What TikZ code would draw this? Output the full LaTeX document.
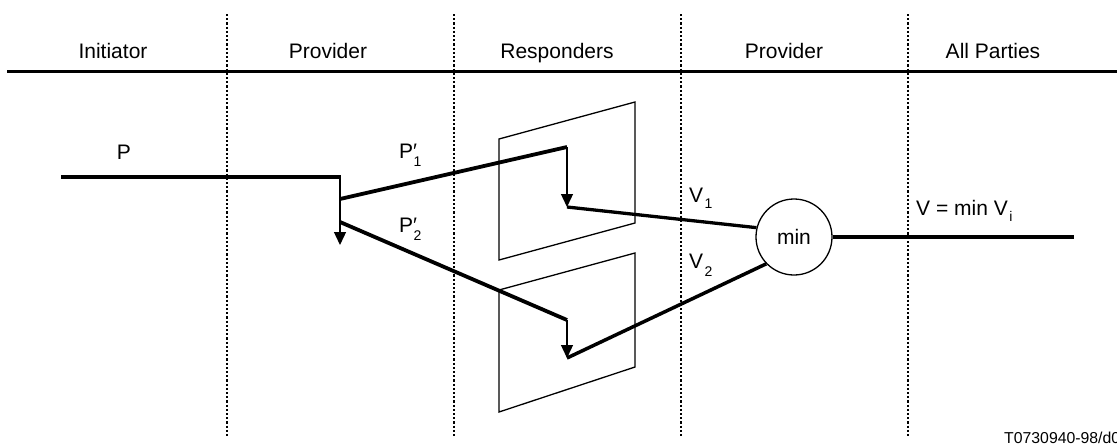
\documentclass[tikz,border=0pt]{standalone}
\usepackage{fontspec}
\setmainfont{Liberation Sans}
\usetikzlibrary{arrows.meta}

% primed and subscripted labels used on the flow lines
\newcommand{\primed}[1]{P\makebox[0pt][l]{′}\raisebox{-8.5pt}{\fontsize{14}{14}\selectfont\kern0.5pt #1}}
\newcommand{\vsub}[2]{V\kern1.5pt\raisebox{-#2}{\fontsize{14}{14}\selectfont #1}}

\begin{document}
\begin{tikzpicture}[x=1pt,y=-1pt,
  rule/.style={line width=3pt},
  lane/.style={line width=2.2pt, dash pattern=on 2.2pt off 2pt},
  flow/.style={line width=3.8pt},
  drop/.style={line width=1.3pt, -{Triangle[width=12pt,length=13pt]}},
  frame/.style={line width=1.3pt, line join=miter},
  head/.style={font=\fontsize{21}{21}\selectfont, anchor=base, inner sep=0pt},
  lbl/.style={font=\fontsize{21}{21}\selectfont, anchor=base west, inner sep=0pt},
  note/.style={font=\fontsize{15.8}{15.8}\selectfont, anchor=base west, inner sep=0pt}]

\clip (0,0) rectangle (1117,445);

% column headers and separators
\draw[rule] (7,71) -- (1117,71);
\foreach \x in {227,454,681,908}
  \draw[lane] (\x,14) -- (\x,437);
\node[head] (hinit) at (113,58) {Initiator};
\node[head] (hprov) at (328,58) {Provider};
\node[head] (hresp) at (557,58) {Responders};
\node[head] (hprov2) at (784,58) {Provider};
\node[head] (hall) at (993,58) {All Parties};

% responder planes
\draw[frame] (499,139) -- (635,102) -- (635,223) -- (499,260) -- cycle;
\draw[frame] (499,290) -- (635,253) -- (635,367) -- (499,412) -- cycle;

% junction points
\coordinate (pstart) at (61,177);
\coordinate (psplit) at (340,177);
\coordinate (ptip)   at (340,245);
\coordinate (b1)     at (340,199);
\coordinate (b2)     at (340,222);
\coordinate (r1)     at (567,147);
\coordinate (r1tip)  at (567,207);
\coordinate (r2)     at (567,320);
\coordinate (r2tip)  at (567,358);
\coordinate (vend)   at (1074,237);

\node[circle, draw, line width=1.3pt, minimum size=76pt, inner sep=0pt,
      font=\fontsize{21}{21}\selectfont] (m) at (794,237) {min};

% initiator proposal and its split
\draw[flow] (pstart) -- ([xshift=1pt]psplit);
\draw[drop] (psplit) -- (ptip);
\draw[flow] (b1) -- (r1);
\draw[flow] (b2) -- (r2);

% responder decisions
\draw[drop] (r1) -- (r1tip);
\draw[drop] (r2) -- (r2tip);
\draw[flow, line width=3.3pt] (r1tip) -- (m.166);
\draw[flow, line width=3.5pt] (r2tip) -- (m.224);
\draw[flow] (m.east) -- (vend);

% labels
\node[head] (lp) at (124,159) {P};
\node[lbl] (lp1) at (399,158) {\primed{1}};
\node[lbl] (lp2) at (399,232) {\primed{2}};
\node[lbl] (lv1) at (689,202) {\vsub{1}{6pt}};
\node[lbl] (lv2) at (689,268) {\vsub{2}{8pt}};
\node[lbl] (lv) at (916,215) {V = min \vsub{i}{6pt}};

\node[note] (tag) at (1004,443) {T0730940-98/d0};
\end{tikzpicture}
\end{document}
